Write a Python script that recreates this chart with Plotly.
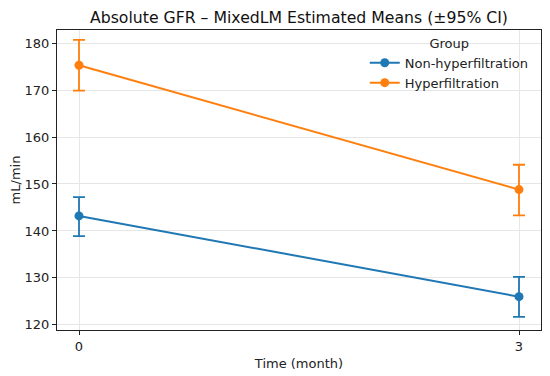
import plotly.graph_objects as go

times = [0, 3]
groups = ["Non-hyperfiltration", "Hyperfiltration"]
colors = ["#1f77b4", "#ff7f0e"]
means_non = [143.2, 126.0]
lo_non = [138.9, 121.7]
hi_non = [147.2, 130.2]
means_hyp = [175.3, 148.8]
lo_hyp = [169.9, 143.3]
hi_hyp = [180.7, 154.1]

fig = go.Figure()
for name, col, m, lo, hi in [
    (groups[0], colors[0], means_non, lo_non, hi_non),
    (groups[1], colors[1], means_hyp, lo_hyp, hi_hyp),
]:
    fig.add_trace(go.Scatter(
        x=times, y=m, mode="lines+markers", name=name,
        line=dict(color=col, width=2),
        marker=dict(color=col, size=9),
        error_y=dict(type="data", symmetric=False,
                     array=[h - v for h, v in zip(hi, m)],
                     arrayminus=[v - l for l, v in zip(lo, m)],
                     color=col, thickness=1.8, width=6),
    ))

# page body has an 8px margin, so the figure is drawn offset by 8px
fig.update_layout(
    width=550, height=376,
    margin=dict(l=49, r=17, t=22, b=54),
    paper_bgcolor="white", plot_bgcolor="white",
    font=dict(family="DejaVu Sans", size=13, color="#222"),
    title=dict(text="Absolute GFR – MixedLM Estimated Means (±95% CI)",
               x=0.5, xref="paper", xanchor="center", y=0.976, yanchor="middle",
               font=dict(size=15.7, color="#111")),
    legend=dict(title=dict(text="Group", side="top center", font=dict(size=13)),
                x=0.985, y=0.997, xanchor="right", yanchor="top",
                bgcolor="rgba(255,255,255,0)", font=dict(size=13),
                tracegroupgap=0, itemwidth=30),
    showlegend=True,
)
fig.update_xaxes(
    range=[-0.15, 3.15], tickvals=times, ticktext=["0", "3"],
    tickfont=dict(size=13),
    title=dict(text="Time (month)", standoff=6, font=dict(size=13)),
    automargin=False,
    showline=True, linecolor="#222", linewidth=1.2, mirror=True,
    ticks="outside", ticklen=4, tickcolor="#222",
    showgrid=True, gridcolor="#e6e6e6", gridwidth=1, zeroline=False,
)
fig.update_yaxes(
    range=[118.9, 182.8], tickvals=[120, 130, 140, 150, 160, 170, 180],
    tickfont=dict(size=13),
    title=dict(text="mL/min", standoff=8, font=dict(size=13)),
    automargin=False,
    showline=True, linecolor="#222", linewidth=1.2, mirror=True,
    ticks="outside", ticklen=4, tickcolor="#222",
    showgrid=True, gridcolor="#e6e6e6", gridwidth=1, zeroline=False,
)
fig.write_html("out.html")
